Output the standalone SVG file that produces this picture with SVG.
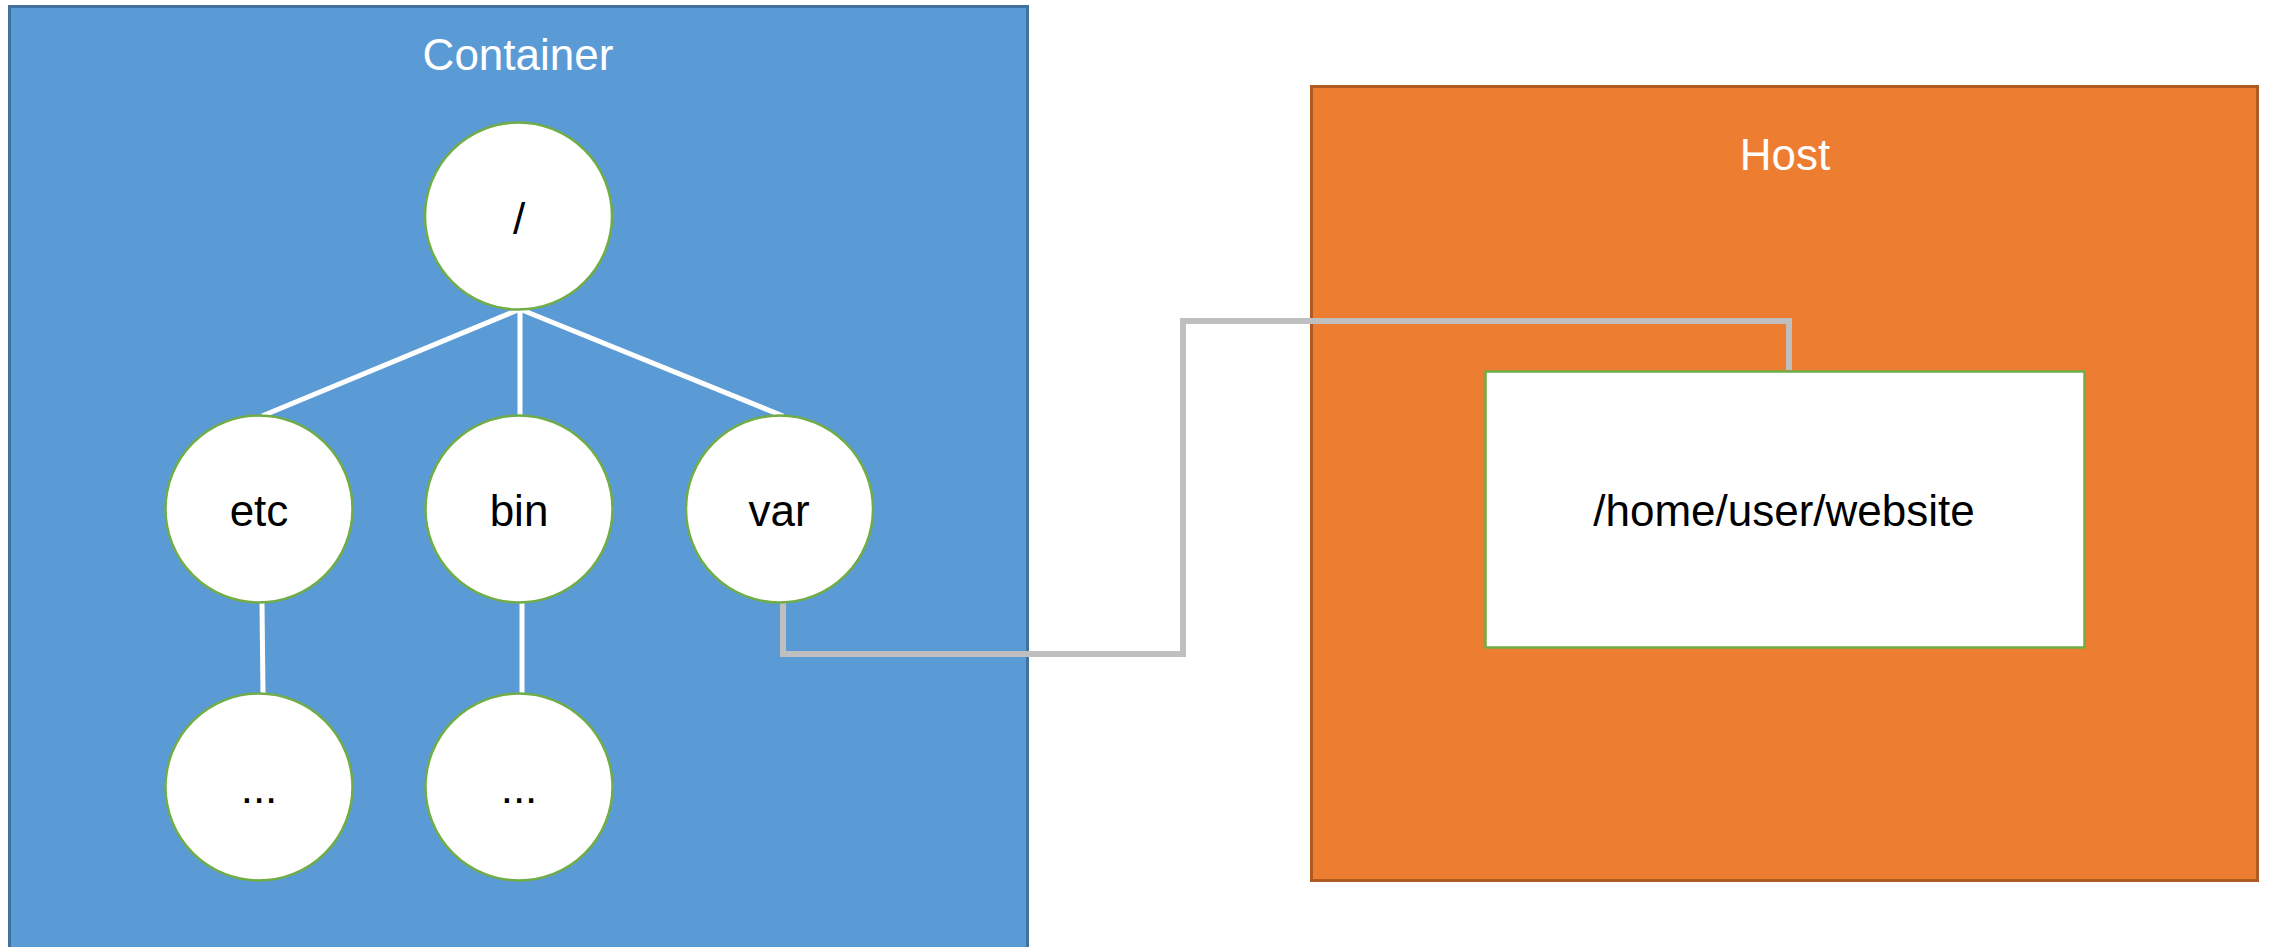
<svg xmlns="http://www.w3.org/2000/svg" width="2270" height="947" viewBox="0 0 2270 947">
<style>
.node{fill:#ffffff;stroke:#70AD47;stroke-width:2.5}
.lbl{font-family:"Liberation Sans",Arial,sans-serif;font-size:44px;fill:#000000;text-anchor:middle}
.title{font-family:"Liberation Sans",Arial,sans-serif;font-size:44px;fill:#ffffff;text-anchor:middle}
.tree{stroke:#ffffff;stroke-width:5;fill:none}
.mount{stroke:#BFBFBF;stroke-width:6;fill:none}
</style>
<rect width="2270" height="947" fill="#ffffff"/>
<g id="container">
<rect x="9.5" y="6.5" width="1018" height="960" fill="#5B9BD5" stroke="#41719C" stroke-width="3"/>
<text class="title" x="518" y="70">Container</text>
</g>
<g id="host">
<rect x="1311.5" y="86.5" width="946" height="794" fill="#ED7D31" stroke="#AE5A21" stroke-width="3"/>
<text class="title" x="1785" y="170">Host</text>
</g>
<g id="connectors">
<line class="tree" x1="518" y1="310" x2="262" y2="416"/>
<line class="tree" x1="520" y1="310" x2="520" y2="416"/>
<line class="tree" x1="522" y1="310" x2="783" y2="416"/>
<line class="tree" x1="262" y1="603" x2="263" y2="694"/>
<line class="tree" x1="522" y1="603" x2="522" y2="694"/>
<polyline class="mount" points="783,603 783,654 1183,654 1183,321 1789,321 1789,370"/>
</g>
<g id="website">
<rect x="1485.5" y="371.5" width="599" height="276" class="node"/>
<text class="lbl" x="1784" y="526" font-size="48">/home/user/website</text>
</g>
<g id="root">
<circle class="node" cx="518.5" cy="216" r="93.5"/>
<text class="lbl" x="519" y="234">/</text>
</g>
<g id="etc">
<circle class="node" cx="259" cy="509" r="93.5"/>
<text class="lbl" x="259" y="526">etc</text>
</g>
<g id="bin">
<circle class="node" cx="519" cy="509" r="93.5"/>
<text class="lbl" x="519" y="526">bin</text>
</g>
<g id="var">
<circle class="node" cx="779.5" cy="509" r="93.5"/>
<text class="lbl" x="779" y="526">var</text>
</g>
<g id="etc-child">
<circle class="node" cx="259" cy="787" r="93.5"/>
<text class="lbl" x="259" y="803">...</text>
</g>
<g id="bin-child">
<circle class="node" cx="519" cy="787" r="93.5"/>
<text class="lbl" x="519" y="803">...</text>
</g>
</svg>
